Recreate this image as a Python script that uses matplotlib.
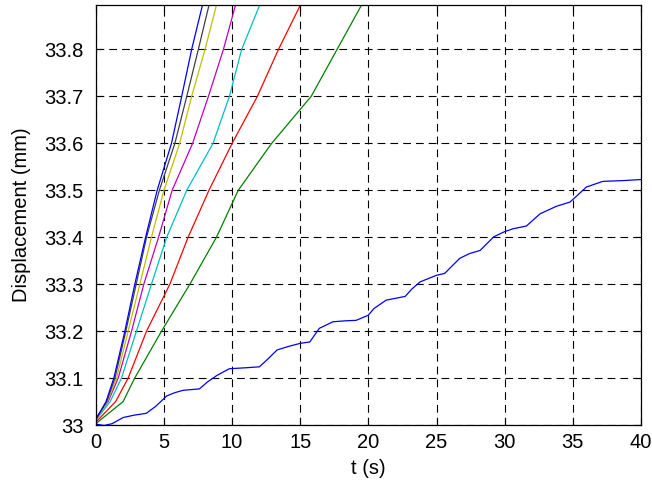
import matplotlib
matplotlib.use("Agg")
import matplotlib.pyplot as plt

plt.rcParams['font.family'] = ['Liberation Sans', 'DejaVu Sans']

# slow blue run (staircase)
t_slow = [0, 0.6, 1.2, 2.0, 2.8, 3.7, 4.4, 5.2, 5.8, 6.4, 7.6, 8.2, 8.9, 9.8, 11.0, 12.0,
          12.6, 13.3, 14.2, 15.0, 15.7, 16.4, 17.4, 18.3, 19.1, 20.0, 20.4, 21.3, 22.7,
          23.2, 23.8, 25.0, 25.6, 26.7, 27.4, 28.2, 29.2, 30.0, 30.6, 31.6, 32.6, 33.8,
          34.8, 36.0, 37.2, 38.9, 40.0]
y_slow = [33.002, 32.999, 33.003, 33.016, 33.021, 33.025, 33.040, 33.062, 33.069, 33.074,
          33.077, 33.092, 33.106, 33.120, 33.122, 33.124, 33.140, 33.160, 33.168, 33.174,
          33.177, 33.206, 33.220, 33.222, 33.223, 33.234, 33.248, 33.266, 33.274, 33.290,
          33.305, 33.319, 33.323, 33.355, 33.365, 33.372, 33.401, 33.412, 33.418, 33.424,
          33.450, 33.466, 33.475, 33.507, 33.519, 33.521, 33.523]

# the faster runs, read where they cross each level
levels = [33.05, 33.1, 33.2, 33.3, 33.4, 33.5, 33.6, 33.7, 33.8, 33.9]
t_green = [2.0, 2.85, 4.82, 6.90, 8.85, 10.45, 12.9, 15.8, 17.7, 19.6]
t_red = [1.45, 2.37, 3.72, 5.43, 6.77, 8.3, 10.0, 11.85, 13.4, 15.1]
t_cyan = [1.05, 1.88, 2.98, 4.08, 5.2, 6.67, 8.6, 9.8, 10.7, 12.1]
t_magenta = [0.9, 1.64, 2.62, 3.52, 4.6, 5.6, 7.1, 8.26, 9.36, 10.3]
t_yellow = [0.85, 1.52, 2.37, 3.23, 4.08, 5.0, 6.15, 7.03, 8.01, 8.9]
t_black = [0.8, 1.40, 2.20, 2.96, 3.72, 4.66, 5.8, 6.67, 7.52, 8.35]
t_blue = [0.75, 1.32, 2.13, 2.86, 3.65, 4.5, 5.55, 6.30, 7.03, 7.87]

# where each run starts at t = 0
y_start = {'g': 33.003, 'r': 33.006, 'c': 33.010, 'm': 33.015, 'y': 33.010,
           'k': 33.012, 'b': 33.012}

fig = plt.figure(figsize=(6.52, 4.88), dpi=100)
ax = fig.add_axes([0.147, 0.129, 0.836, 0.861])

ax.plot(t_slow, y_slow, color='#0000ff', lw=0.9)
runs = [(t_green, 'g', '#008000'), (t_red, 'r', '#ff0000'), (t_cyan, 'c', '#00bfbf'),
        (t_magenta, 'm', '#bf00bf'), (t_yellow, 'y', '#bfbf00'),
        (t_black, 'k', '#404040'), (t_blue, 'b', '#0000ff')]
for ts, key, col in runs:
    ax.plot([0] + ts, [y_start[key]] + levels, color=col, lw=0.9)

ax.set_xlim(0, 40)
ax.set_ylim(33.0, 33.895)
ax.set_xticks(range(0, 41, 5))
ax.set_yticks([33.0, 33.1, 33.2, 33.3, 33.4, 33.5, 33.6, 33.7, 33.8])
ax.set_yticklabels(['33', '33.1', '33.2', '33.3', '33.4', '33.5', '33.6', '33.7', '33.8'])
ax.grid(True, color='black', linestyle=(0, (7, 4.5)), lw=0.8)
ax.tick_params(direction='in', top=True, right=True, labelsize=14.5, length=5)
ax.tick_params(axis='y', pad=9)
ax.tick_params(axis='x', pad=6)
for s in ax.spines.values():
    s.set_linewidth(0.9)

ax.set_xlabel('t (s)', fontsize=14.5, labelpad=5)
ax.set_ylabel('Displacement (mm)', fontsize=14.5, labelpad=9)

fig.savefig('out.png', dpi=100)
